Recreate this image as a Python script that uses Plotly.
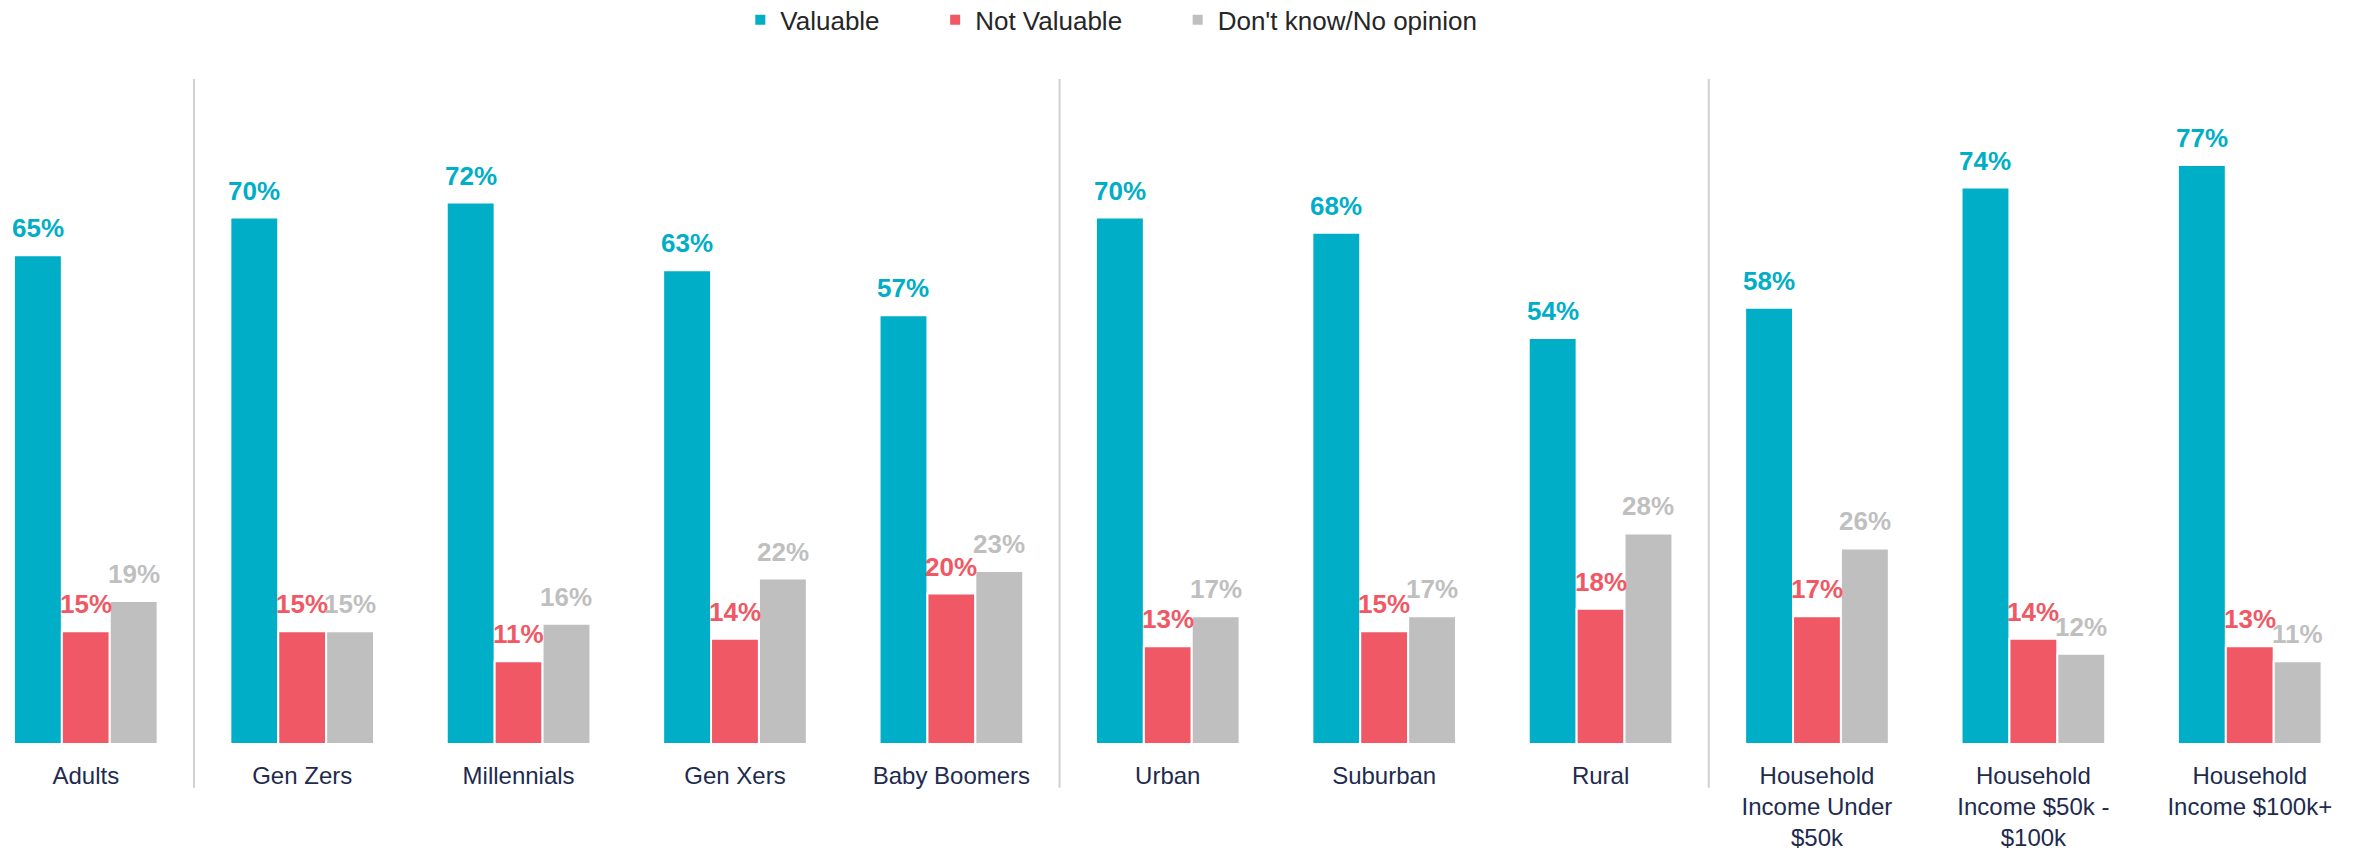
import plotly.graph_objects as go

categories = ["Adults", "Gen Zers", "Millennials", "Gen Xers", "Baby Boomers",
              "Urban", "Suburban", "Rural",
              "Household<br>Income Under<br>$50k",
              "Household<br>Income $50k -<br>$100k",
              "Household<br>Income $100k+"]
valuable = [65, 70, 72, 63, 57, 70, 68, 54, 58, 74, 77]
not_valuable = [15, 15, 11, 14, 20, 13, 15, 18, 17, 14, 13]
dont_know = [19, 15, 16, 22, 23, 17, 17, 28, 26, 12, 11]

series_names = ["Valuable", "Not Valuable", "Don't know/No opinion"]
series_values = [valuable, not_valuable, dont_know]
colors = ["#00AEC7", "#EF5864", "#BFBFBF"]
separators = [0.5, 4.5, 7.5]

FONT = "Arial, Liberation Sans, sans-serif"
NB = "\u00a0"
BARGAP = 0.336
slot = (1 - BARGAP) / 3

fig = go.Figure()
pad = [NB * 7, NB * 7, ""]
for k, (name, vals, col) in enumerate(zip(series_names, series_values, colors)):
    fig.add_trace(go.Bar(
        x=list(range(len(categories))), y=vals, name=name + pad[k],
        marker=dict(color=col, line=dict(color="white", width=2)),
        hoverinfo="skip",
    ))
    for i, v in enumerate(vals):
        fig.add_annotation(
            x=i + (k - 1) * slot, y=v, xref="x", yref="y",
            text=f"<b>{v}%</b>", showarrow=False,
            yanchor="bottom", yshift=10,
            font=dict(family=FONT, size=26, color=col),
        )

for s in separators:
    fig.add_shape(type="line", xref="x", yref="paper", x0=s, x1=s,
                  y0=-0.066, y1=1.0015,
                  line=dict(color="#D0D0D0", width=2), layer="below")

fig.update_layout(
    width=2369, height=853,
    margin=dict(l=0, r=0, t=80, b=109, autoexpand=False),
    template="none",
    paper_bgcolor="white", plot_bgcolor="white",
    barmode="group", bargap=BARGAP, bargroupgap=0,
    font=dict(family=FONT, size=26, color="#262626"),
    showlegend=True,
    legend=dict(orientation="h", x=0.3125, xanchor="left", y=1.0905,
                yanchor="middle", font=dict(family=FONT, size=26, color="#262626"),
                bgcolor="rgba(0,0,0,0)", traceorder="normal"),
    xaxis=dict(range=[-0.3965, 10.551], tickmode="array",
               tickvals=list(range(len(categories))), ticktext=categories,
               showgrid=False, zeroline=False, showline=False, ticks="",
               tickfont=dict(family=FONT, size=24, color="#1E2B4F"),
               ticklabelstandoff=15, automargin=False),
    yaxis=dict(range=[0, 88.3], visible=False, showgrid=False, zeroline=False,
               automargin=False),
)

fig.write_html("out.html", config={"displayModeBar": False},
               post_script="document.body.style.margin='0';document.body.style.overflow='hidden';")
